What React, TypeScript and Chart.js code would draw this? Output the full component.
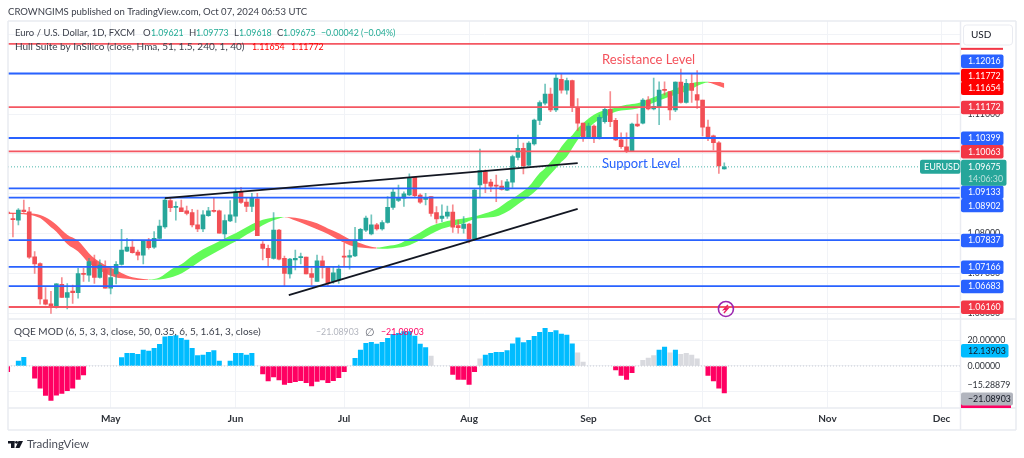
import React, { useEffect, useRef } from "react";
import { Chart, registerables } from "chart.js";

Chart.register(...registerables);

const opens = [1.0854,1.0837,1.0834,1.0859,1.0855,1.0742,1.0725,1.0634,1.0624,1.0615,
1.0673,1.0640,1.0656,1.0652,1.0700,1.0696,1.0730,1.0690,1.0710,1.0663,
1.0699,1.0723,1.0756,1.0766,1.0754,1.0746,1.0782,1.0766,1.0788,1.0817,
1.0883,1.0866,1.0865,1.0857,1.0853,1.0822,1.0812,1.0845,1.0858,1.0857,
1.0799,1.0832,1.0844,1.0905,1.0879,1.0868,1.0887,1.0774,1.0763,1.0738,
1.0809,1.0738,1.0699,1.0734,1.0740,1.0741,1.0700,1.0680,1.0732,1.0715,
1.0680,1.0684,1.0742,1.0741,1.0744,1.0784,1.0809,1.0799,1.0822,1.0812,
1.0828,1.0866,1.0883,1.0889,1.0897,1.0941,1.0897,1.0886,1.0893,1.0853,
1.0838,1.0844,1.0854,1.0820,1.0813,1.0824,1.0786,1.0922,1.0955,1.0929,
1.0921,1.0919,1.0909,1.0929,1.0991,1.1014,1.0972,1.1025,1.1084,1.1127,
1.1150,1.1110,1.1187,1.1160,1.1184,1.1116,1.1077,1.1043,1.1070,1.1039,
1.1081,1.1112,1.1084,1.1035,1.1018,1.1007,1.1075,1.1077,1.1135,1.1113,
1.1117,1.1162,1.1156,1.1110,1.1180,1.1129,1.1177,1.1149,1.1135,1.1067,
1.1045,1.1028,1.09621];
const highs = [1.0858,1.0851,1.0863,1.0884,1.0866,1.0755,1.0727,1.0665,1.0655,1.0675,
1.0690,1.0675,1.0671,1.0713,1.0713,1.0738,1.0746,1.0734,1.0732,1.0717,
1.0730,1.0811,1.0788,1.0784,1.0759,1.0782,1.0788,1.0805,1.0834,1.0889,
1.0889,1.0880,1.0884,1.0869,1.0861,1.0859,1.0858,1.0866,1.0889,1.0859,
1.0847,1.0883,1.0914,1.0916,1.0889,1.0901,1.0901,1.0780,1.0771,1.0853,
1.0811,1.0744,1.0738,1.0759,1.0751,1.0741,1.0713,1.0746,1.0744,1.0717,
1.0717,1.0721,1.0776,1.0759,1.0816,1.0813,1.0844,1.0847,1.0826,1.0833,
1.0893,1.0911,1.0922,1.0905,1.0950,1.0941,1.0900,1.0901,1.0893,1.0868,
1.0872,1.0869,1.0872,1.0834,1.0843,1.0826,1.0911,1.1012,1.0960,1.0936,
1.0947,1.0933,1.0936,1.0997,1.1047,1.1027,1.1031,1.1087,1.1133,1.1175,
1.1165,1.1202,1.1202,1.1190,1.1185,1.1139,1.1077,1.1077,1.1073,1.1098,
1.1114,1.1156,1.1089,1.1053,1.1053,1.1077,1.1100,1.1139,1.1144,1.1190,
1.1181,1.1181,1.1156,1.1181,1.1213,1.1187,1.1202,1.1209,1.1135,1.1085,
1.1047,1.1031,1.09773];
const lows = [1.0847,1.0792,1.0822,1.0853,1.0738,1.0700,1.0623,1.0621,1.0600,1.0613,
1.0640,1.0611,1.0625,1.0638,1.0680,1.0680,1.0675,1.0688,1.0663,1.0649,
1.0674,1.0721,1.0755,1.0751,1.0734,1.0724,1.0761,1.0763,1.0787,1.0813,
1.0855,1.0834,1.0855,1.0847,1.0817,1.0805,1.0805,1.0843,1.0854,1.0801,
1.0788,1.0830,1.0828,1.0876,1.0855,1.0855,1.0795,1.0734,1.0717,1.0736,
1.0734,1.0667,1.0688,1.0709,1.0724,1.0699,1.0671,1.0680,1.0688,1.0667,
1.0675,1.0675,1.0717,1.0711,1.0742,1.0782,1.0805,1.0797,1.0809,1.0809,
1.0826,1.0861,1.0880,1.0868,1.0895,1.0893,1.0876,1.0872,1.0844,1.0826,
1.0830,1.0838,1.0803,1.0801,1.0801,1.0777,1.0784,1.0893,1.0903,1.0905,
1.0880,1.0909,1.0908,1.0916,1.0985,1.0950,1.0970,1.1022,1.1073,1.1123,
1.1106,1.1106,1.1152,1.1150,1.1106,1.1058,1.1031,1.1042,1.1028,1.1037,
1.1077,1.1068,1.1033,1.1014,1.1003,1.1006,1.1068,1.1075,1.1110,1.1110,
1.1073,1.1148,1.1085,1.1106,1.1127,1.1127,1.1129,1.1114,1.1045,1.1033,
1.1010,1.0951,1.09618];
const closes = [1.0851,1.0835,1.0859,1.0855,1.0741,1.0724,1.0636,1.0623,1.0617,1.0674,
1.0640,1.0652,1.0652,1.0700,1.0698,1.0730,1.0690,1.0721,1.0663,1.0690,
1.0723,1.0759,1.0766,1.0752,1.0746,1.0782,1.0765,1.0788,1.0819,1.0884,
1.0865,1.0868,1.0855,1.0851,1.0822,1.0812,1.0847,1.0857,1.0856,1.0801,
1.0833,1.0847,1.0905,1.0878,1.0868,1.0889,1.0795,1.0763,1.0740,1.0809,
1.0736,1.0700,1.0736,1.0738,1.0742,1.0699,1.0690,1.0732,1.0715,1.0677,
1.0702,1.0711,1.0741,1.0745,1.0784,1.0811,1.0839,1.0822,1.0812,1.0828,
1.0866,1.0904,1.0891,1.0900,1.0941,1.0895,1.0879,1.0890,1.0851,1.0837,
1.0844,1.0854,1.0816,1.0815,1.0824,1.0786,1.0909,1.0958,1.0926,1.0919,
1.0919,1.0911,1.0930,1.0993,1.1014,1.0970,1.1027,1.1085,1.1129,1.1150,
1.1110,1.1190,1.1160,1.1184,1.1119,1.1077,1.1043,1.1070,1.1039,1.1092,
1.1112,1.1081,1.1035,1.1018,1.1006,1.1075,1.1070,1.1135,1.1113,1.1119,
1.1160,1.1159,1.1110,1.1180,1.1129,1.1177,1.1159,1.1135,1.1067,1.1043,
1.1028,1.0970,1.09675];

const hullDays = [0,4,6,8,9,11,13,15,16,18,20,22,24,26,28,30,32,34,36,38,40,42,44,46,48,50,51,53,55,57,59,61,63,65,67,68,70,72,74,76,78,80,82,84,86,88,90,92,94,96,98,99,101,102,103,104,105,106,108,110,112,114,116,118,120,122,124,126,127,129,130,131,132];
const hullUpper = [1.0853,1.0851,1.0847,1.0833,1.0822,1.0797,1.0782,1.0751,1.0738,1.0721,1.0709,1.0695,1.0688,1.0685,1.0690,1.0709,1.0723,1.0744,1.0761,1.0774,1.0788,1.0801,1.0816,1.0830,1.0838,1.0842,1.0842,1.0840,1.0834,1.0826,1.0813,1.0801,1.0786,1.0776,1.0767,1.0765,1.0769,1.0774,1.0788,1.0803,1.0819,1.0828,1.0834,1.0838,1.0843,1.0851,1.0861,1.0880,1.0897,1.0918,1.0952,1.0964,1.0997,1.1018,1.1035,1.1047,1.1064,1.1077,1.1098,1.1110,1.1116,1.1123,1.1127,1.1137,1.1148,1.1158,1.1169,1.1177,1.1180,1.1181,1.1180,1.1180,1.11772];
const hullLower = [1.0849,1.0847,1.0839,1.0816,1.0805,1.0774,1.0755,1.0726,1.0717,1.0700,1.0690,1.0687,1.0684,1.0684,1.0685,1.0690,1.0700,1.0717,1.0736,1.0751,1.0766,1.0780,1.0797,1.0813,1.0828,1.0838,1.0841,1.0833,1.0822,1.0811,1.0799,1.0784,1.0771,1.0765,1.0763,1.0763,1.0762,1.0765,1.0771,1.0784,1.0799,1.0812,1.0820,1.0826,1.0837,1.0840,1.0843,1.0855,1.0874,1.0893,1.0917,1.0934,1.0964,1.0980,1.0993,1.1014,1.1035,1.1052,1.1077,1.1093,1.1106,1.1110,1.1114,1.1123,1.1134,1.1144,1.1152,1.1162,1.1170,1.1179,1.1175,1.1170,1.11654];

const qqeValues = [-4.4,null,3.9,6.8,null,-9.6,-17.4,-22.9,-26.8,-22.7,-21.4,-19.3,-17.4,-10.4,-7.0,null,null,null,null,null,null,
6.5,9.9,9.9,9.1,12.5,11.7,13.8,16.9,22.7,23.2,23.7,21.6,20.3,13.8,8.1,8.6,10.7,12.0,3.9,null,3.9,9.9,9.9,8.6,9.9,null,
-6.2,-11.7,-8.6,-10.9,-14.3,-13,-12.2,-11.5,-13,-15.6,-12,-10.9,-13,-11.5,-9.1,-4.4,null,
6,12.5,17.7,18.5,17.2,18.5,21.6,24.7,25.5,26.8,26.8,23.4,17.2,14.3,7.8,null,null,null,
-6.5,-10.4,-10.4,-14.3,-4.4,5.5,8.6,9.9,10.7,10.7,12,17.4,21.9,18.2,20,23.2,26.3,29.4,26.3,27.6,25,24.2,17.4,10.2,3.1,null,null,null,null,null,
-3.1,-7.3,-10.4,-5.2,null,4.4,6.2,8.1,12.5,14.8,10.2,12.5,9.1,9.9,8.6,5.5,null,-7.3,-11.7,-17.4,-21.08903];
const qqeGreyDays = [78,87,105,106,117,118,119,122,124,125,126,127];

const blueLevels = [1.12016,1.10399,1.09133,1.08902,1.07837,1.07166,1.06683];
const redLevels = [1.1276,1.11172,1.10063,1.0616];
const lastClose = 1.09675;

const upperTrendDays = [29,105];
const upperTrendPrices = [1.0889,1.0977];
const lowerTrendDays = [51.8,105];
const lowerTrendPrices = [1.0646,1.0862];

const monthDays = [19,42,62,85,107,128,151,172];
const monthNames = ["May","Jun","Jul","Aug","Sep","Oct","Nov","Dec"];
const qqeTicks = [20,0,-15.28879,-20];

const priceTags = [
  { value: 1.12016, fill: "#2962ff", nudge: -12.5 },
  { value: 1.11772, fill: "#ff0000", nudge: -8 },
  { value: 1.11654, fill: "#ff0000", nudge: 0 },
  { value: 1.11172, fill: "#f23645", nudge: 0 },
  { value: 1.10399, fill: "#2962ff", nudge: 0 },
  { value: 1.10063, fill: "#f23645", nudge: 0 },
  { value: 1.09133, fill: "#2962ff", nudge: 3.5 },
  { value: 1.08902, fill: "#2962ff", nudge: 7.5 },
  { value: 1.07837, fill: "#2962ff", nudge: 0 },
  { value: 1.07166, fill: "#2962ff", nudge: 0 },
  { value: 1.06683, fill: "#2962ff", nudge: 0 },
  { value: 1.0616, fill: "#f23645", nudge: 0 },
];

const FONT = "Lato";
const NUM = 8.8;
const RED = "#f24f55";
const TEAL = "#26a69a";
const LEFT_DAY = 0.09;
const RIGHT_DAY = 175.5;

const pairs = (xs: number[], ys: (number | null)[]) => xs.map((x, i) => ({ x, y: ys[i] }));
const flat = (v: number) => pairs([LEFT_DAY, RIGHT_DAY], [v, v]);
const up = (i: number) => closes[i] >= opens[i];

function roundRect(ctx: CanvasRenderingContext2D, x: number, y: number, w: number, h: number, r: number) {
  ctx.beginPath();
  ctx.roundRect(x, y, w, h, r);
  ctx.fill();
}

const overlay = {
  id: "overlay",
  afterDraw(chart: any) {
    const { ctx, scales, chartArea } = chart;
    const yP = scales.y;
    const yQ = scales.qqe;
    const xS = scales.x;
    const text = (s: string, x: number, y: number, color: string, size = 10, weight = "normal", align: CanvasTextAlign = "left") => {
      ctx.font = `${weight} ${size}px ${FONT}`;
      ctx.fillStyle = color;
      ctx.textAlign = align;
      ctx.textBaseline = "middle";
      ctx.fillText(s, x, y);
    };
    ctx.save();

    // frame
    ctx.strokeStyle = "#e9ebf1";
    ctx.lineWidth = 1.5;
    const line = (a: number, b: number, c: number, d: number) => {
      ctx.beginPath();
      ctx.moveTo(a, b);
      ctx.lineTo(c, d);
      ctx.stroke();
    };
    line(8, 21, 1016, 21);
    line(8, 21, 8, 430);
    line(1016, 21, 1016, 430);
    line(8, 430, 1016, 430);
    line(8, chartArea.bottom, 1016, chartArea.bottom);
    line(8, yP.bottom, 1016, yP.bottom);
    line(chartArea.right, 21, chartArea.right, 430);

    // header
    text("CROWNGIMS published on TradingView.com, Oct 07, 2024 06:53 UTC", 8, 11.5, "#3b3f4a", 9.55);
    const ink = "#3b3f4a";
    const up1 = "#22ab94";
    text("Euro / U.S. Dollar, 1D, FXCM", 15, 33, ink, 9.5);
    text("O", 143, 33, ink, 9.5);
    text("1.09621", 151, 33, up1, NUM);
    text("H", 189, 33, ink, 9.5);
    text("1.09773", 196, 33, up1, NUM);
    text("L", 234, 33, ink, 9.5);
    text("1.09618", 239, 33, up1, NUM);
    text("C", 277, 33, ink, 9.5);
    text("1.09675", 283, 33, up1, NUM);
    text("\u22120.00042 (\u22120.04%)", 321, 33, up1, NUM);
    text("Hull Suite by InSilico (close, Hma, 51, 1.5, 240, 1, 40)", 15, 47, ink, 10);
    text("1.11654", 252, 47, "#ff0000", NUM);
    text("1.11772", 291, 47, "#ff0000", NUM);

    // annotations
    text("Resistance Level", xS.getPixelForValue(109.5), yP.getPixelForValue(1.1235), "#f4525c", 13);
    text("Support Level", xS.getPixelForValue(109.5), yP.getPixelForValue(1.0975), "#2962ff", 13);

    // event marker
    const mx = xS.getPixelForValue(132.3);
    const my = yP.getPixelForValue(1.0611);
    ctx.strokeStyle = "#9c27b0";
    ctx.lineWidth = 1.6;
    ctx.beginPath();
    ctx.arc(mx, my, 7.5, 0, Math.PI * 2);
    ctx.stroke();
    ctx.strokeStyle = "#e91e63";
    ctx.lineWidth = 1.4;
    ctx.beginPath();
    ctx.moveTo(mx + 2, my - 4);
    ctx.lineTo(mx - 2, my + 0.5);
    ctx.lineTo(mx + 2, my - 0.5);
    ctx.lineTo(mx - 2, my + 4);
    ctx.stroke();

    // price tags
    const tagX = chartArea.right + 0.5;
    ctx.fillStyle = "#f23645";
    ctx.fillRect(tagX, yP.getPixelForValue(1.1276) + 4, 42, 2);
    for (const t of priceTags) {
      const y = yP.getPixelForValue(t.value) + t.nudge;
      ctx.fillStyle = t.fill;
      roundRect(ctx, tagX, y - 6.5, 42.5, 13.5, 2);
      text(t.value.toFixed(5), tagX + 7, y + 0.5, "#fff", NUM);
    }
    // last price tag
    const ly = yP.getPixelForValue(lastClose);
    ctx.fillStyle = TEAL;
    roundRect(ctx, tagX, ly - 7, 45.5, 26, 2);
    text(lastClose.toFixed(5), tagX + 7, ly, "#fff", NUM);
    text("14:06:30", tagX + 7, ly + 12, "#b9e2dd", NUM);
    ctx.fillStyle = TEAL;
    roundRect(ctx, 920, ly - 7, 40.5, 14, 2);
    text("EURUSD", 924, ly, "#fff", 9);

    // QQE values
    const q1 = yQ.getPixelForValue(12.13903);
    ctx.fillStyle = "#00bcff";
    roundRect(ctx, tagX, q1 - 6.5, 47.5, 13.5, 2);
    text("12.13903", tagX + 7, q1 + 0.5, "#131722", NUM);
    const q2 = yQ.getPixelForValue(-21.08903) + 6;
    ctx.fillStyle = "#ff0062";
    ctx.fillRect(tagX, q2 + 4, 50, yP.bottom + 89 - q2 - 4);
    ctx.fillStyle = "#b2b5be";
    roundRect(ctx, tagX, q2 - 6.5, 52, 13, 2);
    text("\u221221.08903", tagX + 7, q2 + 0.5, "#131722", NUM);

    text("QQE MOD (6, 5, 3, 3, close, 50, 0.35, 6, 5, 1.61, 3, close)", 14, 332, ink, 10);
    text("\u221221.08903", 316, 332, "#b2b5be", NUM);
    text("\u2205", 365, 332, "#6a6d78", 11);
    text("\u221221.08903", 381, 332, "#ff0062", NUM);

    // USD button
    ctx.strokeStyle = "#e9ebf1";
    ctx.fillStyle = "#fff";
    ctx.lineWidth = 1;
    ctx.beginPath();
    ctx.roundRect(963.5, 25, 49, 20, 3);
    ctx.fill();
    ctx.stroke();
    text("USD", 971, 35, "#131722", 10);

    // brand
    ctx.fillStyle = "#131722";
    ctx.fillRect(8, 441, 6.5, 2.5);
    ctx.fillRect(11, 441, 3.5, 7);
    ctx.beginPath();
    ctx.arc(16.5, 442.3, 1.4, 0, Math.PI * 2);
    ctx.fill();
    ctx.beginPath();
    ctx.moveTo(18.5, 441);
    ctx.lineTo(23, 441);
    ctx.lineTo(19.5, 448);
    ctx.lineTo(15.5, 448);
    ctx.fill();
    text("TradingView", 27, 444.5, "#4a4e59", 11.5);

    ctx.restore();
  },
};

function App() {
  const ref = useRef<HTMLCanvasElement>(null);
  useEffect(() => {
    const days = opens.map((_, i) => i);
    const qqeColor = (i: number) => {
      const v = qqeValues[i];
      if (qqeGreyDays.includes(i)) return "#d9dadf";
      return v !== null && v > 0 ? "#00bcff" : "#ff0062";
    };
    const hullColor = (ctx: any) => {
      const a = ctx.p0DataIndex;
      const b = ctx.p1DataIndex;
      return hullUpper[b] + hullLower[b] >= hullUpper[a] + hullLower[a] ? "#62fb58" : "#ff6464";
    };
    const chart = new Chart(ref.current!, {
      type: "bar",
      data: {
        datasets: [
          ...blueLevels.map((v) => ({
            type: "line", data: flat(v), borderColor: "#2962ff", borderWidth: 1.8, pointRadius: 0, order: 2,
            xAxisID: "x", yAxisID: "y",
          })),
          ...redLevels.map((v) => ({
            type: "line", data: flat(v), borderColor: "#f45762", borderWidth: 1.8, pointRadius: 0, order: 2,
            xAxisID: "x", yAxisID: "y",
          })),
          {
            type: "line", data: flat(lastClose), borderColor: "#4db6ac", borderWidth: 1, borderDash: [1, 2], pointRadius: 0, order: 3,
            xAxisID: "x", yAxisID: "y",
          },
          {
            type: "line", data: pairs(upperTrendDays, upperTrendPrices), borderColor: "#131722", borderWidth: 1.8, pointRadius: 0, order: 1,
            xAxisID: "x", yAxisID: "y",
          },
          {
            type: "line", data: pairs(lowerTrendDays, lowerTrendPrices), borderColor: "#131722", borderWidth: 1.8, pointRadius: 0, order: 1,
            xAxisID: "x", yAxisID: "y",
          },
          {
            type: "bar", data: days.map((i) => ({ x: i, y: [opens[i], closes[i]] })), barThickness: 4, minBarLength: 1, grouped: false,
            backgroundColor: days.map((i) => (up(i) ? TEAL : RED)), order: 10,
            xAxisID: "x", yAxisID: "y",
          },
          {
            type: "bar", data: days.map((i) => ({ x: i, y: [lows[i], highs[i]] })), barThickness: 1, grouped: false,
            backgroundColor: days.map((i) => (up(i) ? "rgba(38,166,154,0.65)" : "rgba(242,79,85,0.65)")), order: 20,
            xAxisID: "x", yAxisID: "y",
          },
          {
            type: "line", data: pairs(hullDays, hullUpper), fill: "+1", borderWidth: 0, pointRadius: 0, cubicInterpolationMode: "monotone", order: 30,
            segment: { backgroundColor: hullColor, borderColor: hullColor },
            xAxisID: "x", yAxisID: "y",
          },
          {
            type: "line", data: pairs(hullDays, hullLower), borderWidth: 0, pointRadius: 0, cubicInterpolationMode: "monotone", order: 30,
            xAxisID: "x", yAxisID: "y",
          },
          {
            type: "bar", data: days.map((i) => ({ x: i, y: qqeValues[i] })), barThickness: 4.4, grouped: false,
            backgroundColor: days.map(qqeColor), order: 10,
            xAxisID: "x", yAxisID: "qqe",
          },
          {
            type: "line", data: pairs([LEFT_DAY, RIGHT_DAY], [0, 0]), borderColor: "#c9ccd4", borderWidth: 1, borderDash: [1, 2], pointRadius: 0, order: 5,
            xAxisID: "x", yAxisID: "qqe",
          },
        ] as any,
      },
      options: {
        animation: false,
        responsive: false,
        maintainAspectRatio: false,
        layout: { padding: { left: 8, top: 21, right: 8, bottom: 28 } },
        plugins: { legend: { display: false }, tooltip: { enabled: false }, title: { display: false } },
        elements: { bar: { borderWidth: 0 }, line: { tension: 0 } },
        scales: {
          x: {
            type: "linear",
            position: "bottom",
            offset: false,
            min: LEFT_DAY,
            max: RIGHT_DAY,
            grid: { color: "#f1f3f7", offset: false, drawTicks: false },
            border: { display: false },
            afterBuildTicks: (s: any) => { s.ticks = monthDays.map((value) => ({ value })); },
            afterFit: (s: any) => { s.height = 22; },
            ticks: {
              autoSkip: false,
              maxRotation: 0,
              padding: 5,
              color: "#2e3239",
              font: { family: FONT, size: 10, weight: "bold" },
              callback: (v: any) => monthNames[monthDays.indexOf(v)] ?? "",
            },
          },
          y: {
            type: "linear",
            position: "right",
            stack: "panes",
            stackWeight: 298,
            min: 1.05859,
            max: 1.13333,
            grid: { color: "#f1f3f7", drawTicks: false },
            border: { display: false },
            afterFit: (s: any) => { s.width = 55.5; },
            ticks: {
              stepSize: 0.01,
              includeBounds: false,
              autoSkip: false,
              padding: 7,
              color: "#2e3239",
              font: { family: FONT, size: NUM },
              callback: (v: any) => Number(v).toFixed(5),
            },
          },
          qqe: {
            type: "linear",
            position: "right",
            stack: "panes",
            stackWeight: 89,
            min: -32.8,
            max: 36.7,
            grid: {
              drawTicks: false,
              color: (c: any) => (c.tick.value === -15.28879 ? "rgba(0,0,0,0)" : "#f1f3f7"),
            },
            border: { display: false },
            afterBuildTicks: (s: any) => { s.ticks = qqeTicks.map((value) => ({ value })); },
            afterFit: (s: any) => { s.width = 55.5; },
            ticks: {
              autoSkip: false,
              padding: 7,
              color: "#2e3239",
              font: { family: FONT, size: NUM },
              callback: (v: any) => (v === -20 ? "" : Number(v).toFixed(5).replace("-", "\u2212")),
            },
          },
        },
      } as any,
      plugins: [overlay],
    });
    return () => chart.destroy();
  }, []);
  return (
    <canvas
      ref={ref}
      width={1024}
      height={458}
      style={{ position: "absolute", left: 0, top: 0, width: 1024, height: 458, background: "#fff" }}
    />
  );
}

export default App;
